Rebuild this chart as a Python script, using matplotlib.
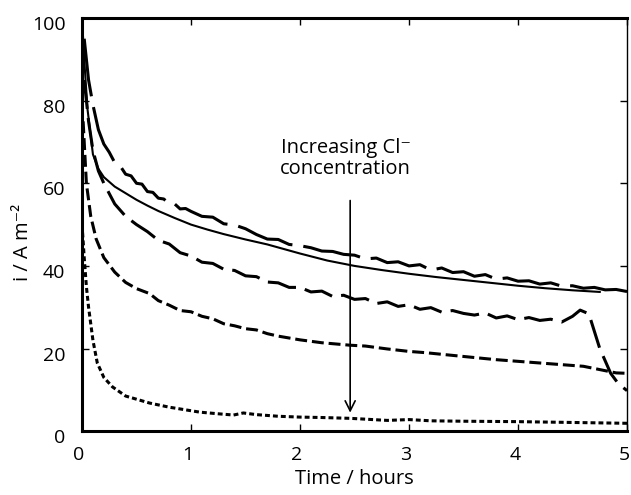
import numpy as np
import matplotlib.pyplot as plt
import matplotlib.transforms as mtrans

plt.rcParams['font.family'] = ['Open Sans', 'DejaVu Sans']

# top long-dash curve
t1 = [0.02, 0.06, 0.1, 0.15, 0.2, 0.25, 0.3, 0.35, 0.4, 0.45, 0.5, 0.55, 0.6, 0.65, 0.7, 0.75, 0.8,
      0.85, 0.9, 0.95, 1.0, 1.1, 1.2, 1.3, 1.4, 1.5, 1.6, 1.7, 1.8, 1.9, 2.0, 2.1, 2.2, 2.3, 2.4,
      2.5, 2.6, 2.7, 2.8, 2.9, 3.0, 3.1, 3.2, 3.3, 3.4, 3.5, 3.6, 3.7, 3.8, 3.9, 4.0, 4.1, 4.2,
      4.3, 4.4, 4.5, 4.6, 4.7, 4.8, 4.9, 5.0]
i1 = [95, 85, 79, 73, 69.5, 67.5, 65.0, 64.2, 62.2, 61.8, 60.0, 59.8, 58.0, 57.8, 56.4, 56.2, 55.0,
      55.0, 53.8, 53.9, 53.2, 52.0, 51.8, 50.2, 49.9, 49.0, 47.6, 46.5, 46.4, 45.2, 44.9, 44.4,
      43.6, 43.5, 42.8, 42.6, 41.7, 41.9, 40.8, 41.0, 40.0, 40.3, 39.0, 39.5, 38.4, 38.6, 37.5,
      37.9, 36.8, 37.1, 36.3, 36.4, 35.6, 35.9, 35.1, 35.2, 34.6, 34.8, 34.2, 34.3, 33.8]

# solid curve
t2 = [0.0, 0.02, 0.05, 0.1, 0.15, 0.2, 0.3, 0.4, 0.5, 0.6, 0.7, 0.85, 1.0, 1.15, 1.3, 1.5, 1.7,
      2.0, 2.25, 2.5, 2.75, 3.0, 3.25, 3.5, 3.75, 4.0, 4.25, 4.5, 4.75]
i2 = [100, 90, 78, 67, 63.5, 61.5, 59.2, 57.6, 56.0, 54.6, 53.3, 51.6, 50.0, 48.8, 47.7, 46.4,
      45.2, 43.0, 41.3, 40.0, 39.0, 38.1, 37.3, 36.6, 35.9, 35.2, 34.6, 34.1, 33.7]

# middle long-dash curve
t3 = [0.02, 0.06, 0.1, 0.15, 0.2, 0.3, 0.4, 0.5, 0.6, 0.7, 0.8, 0.9, 1.0, 1.1, 1.2, 1.3, 1.4, 1.5,
      1.6, 1.7, 1.8, 1.9, 2.0, 2.1, 2.2, 2.3, 2.4, 2.5, 2.6, 2.7, 2.8, 2.9, 3.0, 3.1, 3.2, 3.3, 3.4,
      3.5, 3.6, 3.7, 3.8, 3.9, 4.0, 4.1, 4.2, 4.3, 4.4, 4.5, 4.57, 4.65, 4.75, 4.85, 4.92, 5.0]
i3 = [85, 75, 68, 63, 60, 55, 52, 50, 48.3, 46.2, 45.3, 43.2, 42.4, 40.9, 40.6, 39.2, 38.9, 37.6,
      37.4, 36.1, 35.9, 34.8, 34.8, 33.7, 33.9, 32.6, 32.9, 31.9, 32.1, 30.9, 31.3, 30.2, 30.6,
      29.5, 29.9, 28.8, 29.2, 28.5, 28.1, 28.6, 27.4, 27.9, 27.0, 27.5, 26.8, 27.1, 26.4, 27.8,
      29.3, 28.4, 20.0, 14.0, 11.5, 9.8]

# medium-dash curve
t4 = [0.01, 0.04, 0.08, 0.13, 0.2, 0.3, 0.4, 0.5, 0.62, 0.7, 0.8, 0.9, 1.0, 1.1, 1.2, 1.3, 1.4,
      1.5, 1.6, 1.7, 1.8, 2.0, 2.2, 2.46, 2.6, 2.8, 3.0, 3.15, 3.3, 3.53, 3.8, 4.0, 4.2, 4.45, 4.6,
      4.75, 4.9, 5.0]
i4 = [75, 60, 52, 46.5, 42, 38.5, 36, 34.5, 33.3, 31.6, 30.5, 29.2, 28.9, 27.8, 27.2, 26.0, 25.5,
      24.8, 24.5, 23.6, 23.0, 22.1, 21.4, 20.8, 20.6, 19.9, 19.3, 19.0, 18.6, 18.0, 17.3, 16.9,
      16.5, 16.0, 15.7, 14.9, 14.1, 14.0]

# dotted curve
t5 = [0.0, 0.02, 0.04, 0.06, 0.1, 0.14, 0.2, 0.28, 0.4, 0.62, 0.8, 1.08, 1.25, 1.39, 1.48, 1.6,
      1.8, 2.0, 2.2, 2.46, 2.6, 2.8, 3.0, 3.2, 3.5, 4.0, 4.5, 5.0]
i5 = [50, 42, 35, 30, 22, 16.5, 13, 10.7, 8.5, 6.8, 5.8, 4.6, 4.2, 3.9, 4.4, 4.0, 3.6, 3.4, 3.3,
      3.1, 2.9, 2.6, 2.8, 2.5, 2.4, 2.3, 2.1, 1.9]

fig = plt.figure(figsize=(6.31, 4.95), dpi=100)
ax = fig.add_axes([0.130, 0.129, 0.8637, 0.8345])

ax.plot(t1, i1, color='black', lw=2.2, dashes=(19, 3.6))
ax.plot(t2, i2, color='black', lw=1.5)
ax.plot(t3, i3, color='black', lw=2.2, dashes=(9.5, 3.0))
ax.plot(t4, i4, color='black', lw=2.2, dashes=(3.9, 1.6))
ax.plot(t5, i5, color='black', lw=2.2, dashes=(1.6, 1.0))

ax.annotate('', xy=(2.46, 3.8), xytext=(2.46, 56.5),
            arrowprops=dict(arrowstyle='->', color='black', lw=1.2, mutation_scale=18))
ax.text(2.42, 66, 'Increasing Cl\u207b\nconcentration', ha='center', va='center',
        fontsize=14.5, linespacing=1.05)

ax.set_xlim(0, 5)
ax.set_ylim(0, 100)
ax.set_xticks([0, 1, 2, 3, 4, 5])
ax.set_yticks([0, 20, 40, 60, 80, 100])
ax.tick_params(direction='in', length=5, width=1, top=True, right=True, labelsize=14)
ax.tick_params(axis='x', pad=11)
ax.tick_params(axis='y', pad=12)

# small nudges of the tick labels like the original
for lab in ax.get_xticklabels():
    lab.set_transform(lab.get_transform() + mtrans.ScaledTranslation(-3 / 100, 0, fig.dpi_scale_trans))
for lab in ax.get_yticklabels():
    lab.set_transform(lab.get_transform() + mtrans.ScaledTranslation(0, -5 / 100, fig.dpi_scale_trans))

for s in ['left', 'bottom', 'top']:
    ax.spines[s].set_linewidth(2.2)
ax.spines['right'].set_linewidth(1.0)

ax.set_xlabel('Time / hours', fontsize=14.5, labelpad=3)
ax.set_ylabel('i / A m\u207b\u00b2', fontsize=14.5)
ax.yaxis.set_label_coords(-0.09, 0.458)

plt.savefig('out.png', dpi=100)
